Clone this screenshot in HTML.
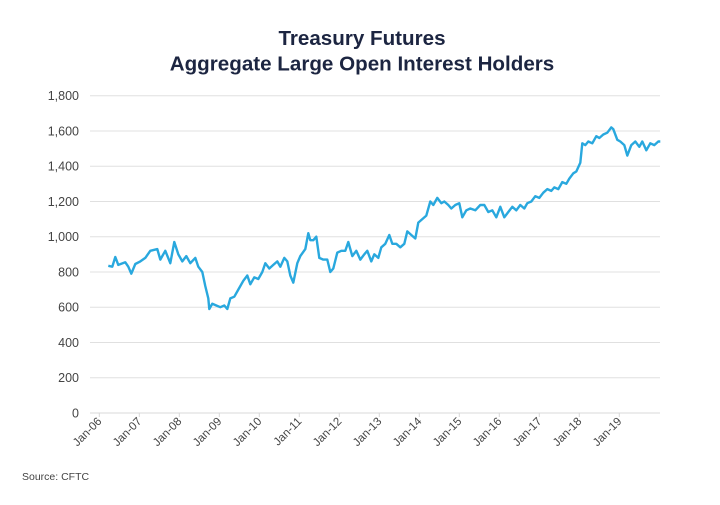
<!DOCTYPE html>
<html><head><meta charset="utf-8"><style>
body{margin:0;background:#fff;font-family:"Liberation Sans",sans-serif;}
svg text{font-family:"Liberation Sans",sans-serif;}
</style></head><body>
<svg id="chart" width="720" height="500" viewBox="0 0 720 500" xmlns="http://www.w3.org/2000/svg">
<rect width="720" height="500" fill="#fff"/>
<text x="362" y="45" text-anchor="middle" font-size="20.6" font-weight="bold" fill="#1c2541">Treasury Futures</text>
<text x="362" y="70.5" text-anchor="middle" font-size="20.6" font-weight="bold" fill="#1c2541">Aggregate Large Open Interest Holders</text>
<g id="grid"></g>
<g id="yticks"></g>
<g id="xticks"></g>
<g id="series"></g>
<text x="22" y="480" font-size="10.5" fill="#444">Source: CFTC</text>
</svg>
<script>
// months since Jan-06
const months = [2.7,3.9,4.8,5.7,7.8,8.7,9.6,10.8,12.3,13.8,15.3,17.4,18.3,19.8,21.3,22.5,23.7,24.9,26.1,27.3,28.8,29.7,30.9,31.8,32.7,33,33.9,35.1,36.3,37.5,38.4,39.3,40.5,41.7,43.2,44.4,45.3,46.5,47.7,48.9,49.8,51,52.2,53.4,54.3,55.5,56.4,57.3,58.2,59.4,60.3,61.8,62.7,63.3,64.2,65.1,66,67.2,68.4,69.3,70.2,71.4,72.6,73.8,74.7,75.9,77.1,78.3,79.5,80.4,81.6,82.5,83.7,84.6,85.8,87,87.9,89.1,90.3,91.5,92.4,93.6,94.8,95.7,96.9,98.1,99.3,100.2,101.4,102.6,103.5,104.7,105.6,106.8,108,108.9,110.1,111.3,112.8,114.3,115.5,116.7,117.9,119.1,120.3,121.5,122.7,123.9,125.1,126.3,127.5,128.4,129.6,130.8,132,133.2,134.4,135.6,136.5,137.7,138.9,140.1,141,142.2,143.1,144.3,144.9,145.8,146.7,147.9,149.1,150,151.2,152.4,153.6,154.2,155.4,156.3,157.5,158.4,159.6,160.8,162,162.9,164.1,165.3,166.5,167.7,168.3];
const values = [835,830,885,840,855,830,790,845,860,880,920,930,870,920,850,970,900,860,890,850,880,830,800,720,650,590,620,610,600,610,590,650,660,700,750,780,730,770,760,800,850,820,840,860,830,880,860,780,740,850,890,930,1020,980,980,1000,880,870,870,800,820,910,920,920,970,890,920,870,900,920,860,900,880,940,960,1010,960,960,940,960,1030,1010,990,1080,1100,1120,1200,1180,1220,1190,1200,1180,1160,1180,1190,1110,1150,1160,1150,1180,1180,1140,1150,1110,1170,1110,1140,1170,1150,1180,1160,1190,1200,1230,1220,1250,1270,1260,1280,1270,1310,1300,1330,1360,1370,1420,1530,1520,1540,1530,1570,1560,1580,1590,1620,1610,1550,1540,1520,1460,1520,1540,1510,1540,1490,1530,1520,1540,1540];
const yTicks = [0,200,400,600,800,1000,1200,1400,1600,1800];
const xLabels = ["Jan-06","Jan-07","Jan-08","Jan-09","Jan-10","Jan-11","Jan-12","Jan-13","Jan-14","Jan-15","Jan-16","Jan-17","Jan-18","Jan-19"];

const NS="http://www.w3.org/2000/svg";
const xScale = m => 99.3 + m*(40.0/12);
const yScale = v => 413 - v*(317.3/1800);
const grid=document.getElementById('grid'), yt=document.getElementById('yticks'), xt=document.getElementById('xticks'), ser=document.getElementById('series');

yTicks.forEach(v=>{
  const l=document.createElementNS(NS,'line');
  
  
  l.setAttribute('x1',90);l.setAttribute('x2',660);
  l.setAttribute('y1',yScale(v));l.setAttribute('y2',yScale(v));
  l.setAttribute('stroke',v===0?'#d8d8d8':'#e0e0e0');l.setAttribute('stroke-width',1);
  grid.appendChild(l);
  const t=document.createElementNS(NS,'text');
  
  
  t.setAttribute('x',79);t.setAttribute('y',yScale(v)+4.5);
  t.setAttribute('text-anchor','end');t.setAttribute('font-size','12.5');t.setAttribute('fill','#444');
  t.textContent=v.toLocaleString('en-US');
  yt.appendChild(t);
});
xLabels.forEach((s,i)=>{
  const x=xScale(i*12);
  const tk=document.createElementNS(NS,'line');
  
  
  tk.setAttribute('x1',x);tk.setAttribute('x2',x);tk.setAttribute('y1',413);tk.setAttribute('y2',417);
  tk.setAttribute('stroke','#d8d8d8');
  xt.appendChild(tk);
  const t=document.createElementNS(NS,'text');
  
  
  t.setAttribute('transform',`translate(${x+3},${422}) rotate(-45)`);
  t.setAttribute('text-anchor','end');t.setAttribute('font-size','11.5');t.setAttribute('fill','#444');
  t.textContent=s;
  xt.appendChild(t);
});
const p=document.createElementNS(NS,'path');


p.setAttribute('d',months.map((m,i)=>(i?'L':'M')+xScale(m).toFixed(1)+','+yScale(values[i]).toFixed(1)).join(''));
p.setAttribute('fill','none');p.setAttribute('stroke','#29a8de');p.setAttribute('stroke-width','2.4');p.setAttribute('stroke-linejoin','round');
ser.appendChild(p);
</script>
</body></html>
